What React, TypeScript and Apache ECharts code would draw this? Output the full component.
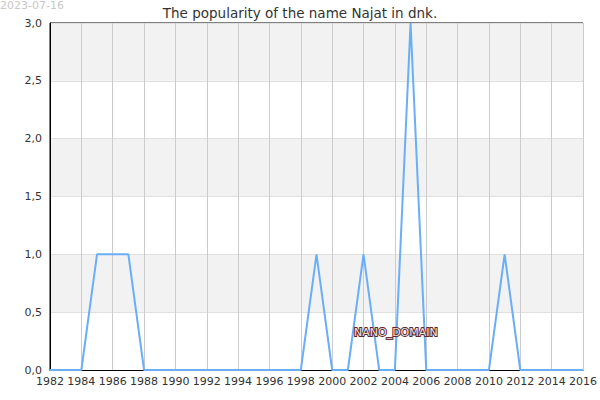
import React, { useEffect, useRef } from "react";
import * as echarts from "echarts";

const years = [1982,1983,1984,1985,1986,1987,1988,1989,1990,1991,1992,1993,1994,1995,1996,1997,1998,1999,2000,2001,2002,2003,2004,2005,2006,2007,2008,2009,2010,2011,2012,2013,2014,2015,2016];
const counts = [0,0,0,1,1,1,0,0,0,0,0,0,0,0,0,0,0,1,0,0,1,0,0,3,0,0,0,0,0,1,0,0,0,0,0];
const titleText = "The popularity of the name Najat in dnk.";
const dateText = "2023-07-16";
const watermark = "Names of the World © 2023";

export default function App() {
  const ref = useRef<HTMLDivElement>(null);
  useEffect(() => {
    if (!ref.current) return;
    const chart = echarts.init(ref.current, null, { renderer: "svg" });
    const font = "DejaVu Sans";
    chart.setOption({
      animation: false,
      textStyle: { fontFamily: font },
      title: {
        text: titleText,
        left: "center",
        top: 1,
        textStyle: { fontFamily: font, fontSize: 13.5, fontWeight: "normal", color: "#333" },
      },
      grid: {
        left: 50,
        right: 15,
        top: 23,
        bottom: 30,
        show: true,
        borderColor: "#000",
        borderWidth: 1,
        backgroundColor: "transparent",
      },
      xAxis: {
        type: "value",
        min: 1982,
        max: 2016,
        interval: 2,
        axisLine: { show: true, lineStyle: { color: "#000", width: 1 } },
        axisTick: { show: false },
        axisLabel: { formatter: (v: number) => String(v), color: "#333", fontSize: 11, fontFamily: font, margin: 6 },
        splitLine: { show: true, lineStyle: { color: "#cccccc", width: 1 } },
      },
      yAxis: {
        type: "value",
        min: 0,
        max: 3,
        interval: 0.5,
        axisLine: { show: true, lineStyle: { color: "#000", width: 1 } },
        axisTick: { show: false },
        axisLabel: {
          formatter: (v: number) => v.toFixed(1).replace(".", ","),
          color: "#333",
          fontSize: 11,
          fontFamily: font,
          margin: 8,
        },
        splitLine: { show: true, lineStyle: { color: "#e0e0e0", width: 1 } },
        splitArea: { show: true, areaStyle: { color: ["#ffffff", "#f2f2f2"] } },
      },
      series: [
        {
          type: "line",
          data: years.map((y, i) => [y, counts[i]]),
          showSymbol: false,
          symbol: "none",
          lineStyle: { color: "#6aaef5", width: 2 },
          z: 3,
        },
      ],
      graphic: [
        { type: "text", left: 0, top: 0, style: { text: dateText, fill: "#c8c8c8", fontSize: 11, fontFamily: font } },
        { type: "text", left: 73, top: 55, style: { text: watermark, fill: "#e8e8f4", fontSize: 11, fontFamily: font } },
        { type: "text", left: 291, top: 145, style: { text: watermark, fill: "#e8e8f4", fontSize: 11, fontFamily: font } },
        { type: "text", left: 117, top: 200, style: { text: watermark, fill: "#e8e8f4", fontSize: 11, fontFamily: font } },
        {
          type: "text",
          left: 353,
          top: 326,
          z: 10,
          style: {
            text: "NANO_DOMAIN",
            fill: "#f3e3e3",
            stroke: "#5a2828",
            lineWidth: 2,
            fontSize: 11,
            fontFamily: font,
          },
        },
      ],
    });
    return () => chart.dispose();
  }, []);
  return <div ref={ref} style={{ width: 600, height: 400, position: "absolute", left: 0, top: 0 }} />;
}
